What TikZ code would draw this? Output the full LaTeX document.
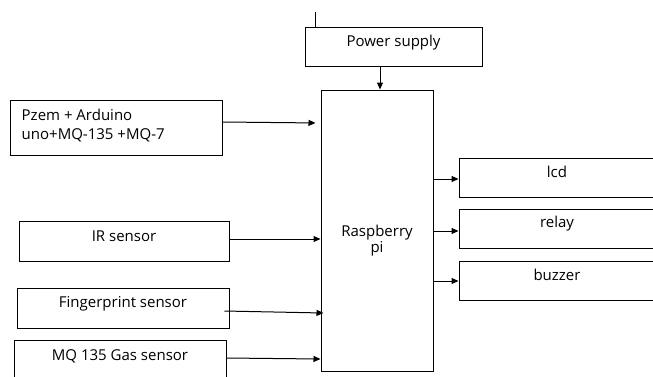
\documentclass[tikz,border=0pt]{standalone}
\usepackage{fontspec}
\setmainfont{Open Sans}
\usetikzlibrary{arrows.meta}
\tikzset{
  blk/.style={draw, line width=1pt, inner sep=0pt},
  lbl/.style={inner sep=0pt, font=\fontsize{15}{19}\selectfont},
  wire/.style={line width=1pt},
  feed/.style={-{Triangle[length=7pt,width=6pt]}, line width=1pt}
}

\begin{document}
\begin{tikzpicture}[x=1pt,y=-1pt]
  \useasboundingbox (0,0) rectangle (653,376);
  \clip (0,0) rectangle (653,376);
  % supply and controller
  \node[blk, minimum width=177pt, minimum height=39pt,
    label={[lbl,yshift=4pt]center:Power supply}] (ps) at (393.5,46.5) {};
  \node[blk, minimum width=112pt, minimum height=281pt,
    label={[lbl,align=center,font=\fontsize{15}{16}\selectfont,yshift=-10.5pt]center:{Raspberry\\pi}}] (rpi) at (377,230.5) {};
  % inputs
  \node[blk, minimum width=212pt, minimum height=55pt,
    label={[lbl,anchor=west,align=left,xshift=12pt,yshift=1.5pt]west:{Pzem + Arduino\\uno+MQ-135 +MQ-7}}] (pzem) at (116,127.5) {};
  \node[blk, minimum width=210pt, minimum height=40pt,
    label={[lbl,yshift=5pt]center:IR sensor}] (ir) at (124,241) {};
  \node[blk, minimum width=212pt, minimum height=40pt,
    label={[lbl,yshift=4.5pt]center:Fingerprint sensor}] (fp) at (123,308) {};
  \node[blk, minimum width=212pt, minimum height=41pt,
    label={[lbl,yshift=5pt]center:MQ 135 Gas sensor}] (mq) at (120,361) {};
  % outputs
  \node[blk, minimum width=196pt, minimum height=39pt,
    label={[lbl,yshift=5.5pt]center:lcd}] (lcd) at (557,177.5) {};
  \node[blk, minimum width=196pt, minimum height=39pt,
    label={[lbl,yshift=4.5pt]center:relay}] (relay) at (557,228.5) {};
  \node[blk, minimum width=196pt, minimum height=39pt,
    label={[lbl,yshift=6pt]center:buzzer}] (buzzer) at (557,280.5) {};

  \coordinate (lead) at (315,12);
  \draw[wire] (lead) -- (lead |- ps.north);
  \draw[feed] ([xshift=-13.5pt]ps.south) -- ([xshift=-13.5pt]ps.south |- rpi.north);

  \draw[feed, shorten >=5pt] ([yshift=5.5pt]pzem.east) -- ([yshift=4.5pt]pzem.east -| rpi.west);
  \draw[feed] ([yshift=2pt]ir.east) -- ([yshift=2pt]ir.east -| rpi.west);
  \draw[feed] ([xshift=-5pt,yshift=-3pt]fp.east) -- ([xshift=3pt,yshift=-5pt]fp.east -| rpi.west);
  \draw[feed] ([yshift=3pt]mq.east) -- ([yshift=2pt]mq.east -| rpi.west);

  \draw[feed] ([yshift=-1.5pt]rpi.east |- lcd.west) -- ([yshift=-1.5pt]lcd.west);
  \draw[feed] ([yshift=-2.5pt]rpi.east |- relay.west) -- ([yshift=-2.5pt]relay.west);
  \draw[feed] ([yshift=-0.5pt]rpi.east |- buzzer.west) -- ([yshift=-0.5pt]buzzer.west);
\end{tikzpicture}
\end{document}
